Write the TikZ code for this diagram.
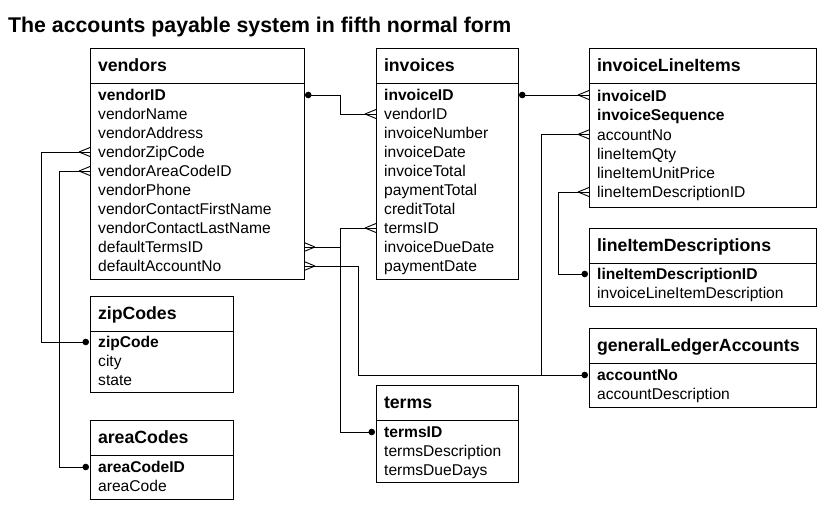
\documentclass[tikz,border=0pt]{standalone}
\usepackage{fontspec}
\setmainfont{Liberation Sans}
\usetikzlibrary{arrows.meta,positioning}

\tikzset{crow/.pic={\draw[line width=0.9pt] (-11,0) -- (0,4.5) (-11,0) -- (0,-4.5);}}

\begin{document}
\begin{tikzpicture}[x=1pt,y=-1pt,
hd/.style={draw,line width=1pt,outer sep=0pt,inner xsep=8pt,inner ysep=0pt,anchor=north west,
minimum height=35pt,align=left,text height=12.7pt,text depth=0pt,font=\fontsize{17.7}{20}\selectfont\bfseries},
bd/.style={draw,line width=1pt,outer sep=0pt,inner sep=0pt,anchor=north west},
fld/.style={anchor=base west,inner sep=0pt,font=\fontsize{15.6}{19}\selectfont},
rel/.style={line width=1pt},pk/.style={{Circle[length=6.5pt,sep=1pt]}-}]
\useasboundingbox (0,0) rectangle (828,509);
\node[anchor=base west,inner sep=0pt,font=\fontsize{21.3}{24}\selectfont\bfseries] (title) at (8,32)
  {The accounts payable system in fifth normal form};

% vendors
\node[hd,text width=198pt] (vendors) at (90,48) {vendors};
\node[bd,minimum width=214pt,minimum height=196pt] (vendorsBody) at (vendors.south west) {};
\foreach \f [count=\i] in {\textbf{vendorID},vendorName,vendorAddress,vendorZipCode,vendorAreaCodeID,
  vendorPhone,vendorContactFirstName,vendorContactLastName,defaultTermsID,defaultAccountNo}{
  \coordinate (ven-\i) at ([yshift={-(12+19*(\i-1))*1pt}]vendorsBody.north west);
  \node[fld] (ven-\i-txt) at ([xshift=8pt,yshift=-5.6pt]ven-\i) {\f};
}

% invoices
\node[hd,text width=126pt] (invoices) at (376,48) {invoices};
\node[bd,minimum width=142pt,minimum height=196pt] (invoicesBody) at (invoices.south west) {};
\foreach \f [count=\i] in {\textbf{invoiceID},vendorID,invoiceNumber,invoiceDate,invoiceTotal,
  paymentTotal,creditTotal,termsID,invoiceDueDate,paymentDate}{
  \coordinate (inv-\i) at ([yshift={-(12+19*(\i-1))*1pt}]invoicesBody.north west);
  \node[fld] (inv-\i-txt) at ([xshift=8pt,yshift=-5.6pt]inv-\i) {\f};
}

% invoiceLineItems
\node[hd,text width=211pt] (lineItems) at (589,48) {invoiceLineItems};
\node[bd,minimum width=227pt,minimum height=124pt] (lineItemsBody) at (lineItems.south west) {};
\foreach \f [count=\i] in {\textbf{invoiceID},\textbf{invoiceSequence},accountNo,lineItemQty,
  lineItemUnitPrice,lineItemDescriptionID}{
  \coordinate (ili-\i) at ([yshift={-(13+19.2*(\i-1))*1pt}]lineItemsBody.north west);
  \node[fld] (ili-\i-txt) at ([xshift=8pt,yshift=-5.6pt]ili-\i) {\f};
}

% lineItemDescriptions
\node[hd,text width=211pt] (descriptions) at (589,228) {lineItemDescriptions};
\node[bd,minimum width=227pt,minimum height=43pt] (descriptionsBody) at (descriptions.south west) {};
\foreach \f [count=\i] in {\textbf{lineItemDescriptionID},invoiceLineItemDescription}{
  \coordinate (lid-\i) at ([yshift={-(11+18.5*(\i-1))*1pt}]descriptionsBody.north west);
  \node[fld] (lid-\i-txt) at ([xshift=8pt,yshift=-5.6pt]lid-\i) {\f};
}

% generalLedgerAccounts
\node[hd,text width=211pt] (ledger) at (589,328) {generalLedgerAccounts};
\node[bd,minimum width=227pt,minimum height=44pt] (ledgerBody) at (ledger.south west) {};
\foreach \f [count=\i] in {\textbf{accountNo},accountDescription}{
  \coordinate (gla-\i) at ([yshift={-(12+19*(\i-1))*1pt}]ledgerBody.north west);
  \node[fld] (gla-\i-txt) at ([xshift=8pt,yshift=-5.6pt]gla-\i) {\f};
}

% zipCodes
\node[hd,text width=127pt] (zipCodes) at (90,296) {zipCodes};
\node[bd,minimum width=143pt,minimum height=61pt] (zipCodesBody) at (zipCodes.south west) {};
\foreach \f [count=\i] in {\textbf{zipCode},city,state}{
  \coordinate (zip-\i) at ([yshift={-(11+19*(\i-1))*1pt}]zipCodesBody.north west);
  \node[fld] (zip-\i-txt) at ([xshift=8pt,yshift=-5.6pt]zip-\i) {\f};
}

% areaCodes
\node[hd,text width=127pt] (areaCodes) at (90,420) {areaCodes};
\node[bd,minimum width=143pt,minimum height=44pt] (areaCodesBody) at (areaCodes.south west) {};
\foreach \f [count=\i] in {\textbf{areaCodeID},areaCode}{
  \coordinate (are-\i) at ([yshift={-(12+19*(\i-1))*1pt}]areaCodesBody.north west);
  \node[fld] (are-\i-txt) at ([xshift=8pt,yshift=-5.6pt]are-\i) {\f};
}

% terms
\node[hd,text width=126pt] (terms) at (376,385) {terms};
\node[bd,minimum width=142pt,minimum height=62pt] (termsBody) at (terms.south west) {};
\foreach \f [count=\i] in {\textbf{termsID},termsDescription,termsDueDays}{
  \coordinate (trm-\i) at ([yshift={-(12+19*(\i-1))*1pt}]termsBody.north west);
  \node[fld] (trm-\i-txt) at ([xshift=8pt,yshift=-5.6pt]trm-\i) {\f};
}

% relationships
\draw[rel,pk] (ven-1 -| vendorsBody.east) -- ++(36,0) |- (inv-2);
\pic at (inv-2) {crow};
\draw[rel,pk] (inv-1 -| invoicesBody.east) -- (inv-1 -| lineItemsBody.west);
\pic at (inv-1 -| lineItemsBody.west) {crow};
\draw[rel,pk] (zip-1) -- ++(-49,0) |- (ven-4);
\pic at (ven-4) {crow};
\draw[rel,pk] (are-1) -- ++(-31,0) |- (ven-5);
\pic at (ven-5) {crow};
\coordinate (termsBend) at ([xshift=-36pt]trm-1);
\draw[rel,pk] (trm-1) -- (termsBend) |- (inv-8);
\pic at (inv-8) {crow};
\draw[rel] (ven-9 -| vendorsBody.east) -- (ven-9 -| termsBend);
\pic[rotate=180] at (ven-9 -| vendorsBody.east) {crow};
\coordinate (acctBend) at ([xshift=-231pt]gla-1);
\draw[rel,pk] (gla-1) -- (acctBend) |- (ven-10 -| vendorsBody.east);
\pic[rotate=180] at (ven-10 -| vendorsBody.east) {crow};
\coordinate (acctJoin) at ([xshift=-48pt]gla-1);
\draw[rel] (ili-3) -| (acctJoin);
\pic at (ili-3) {crow};
\draw[rel,pk] (lid-1) -- ++(-31,0) |- (ili-6);
\pic at (ili-6) {crow};
\end{tikzpicture}
\end{document}
